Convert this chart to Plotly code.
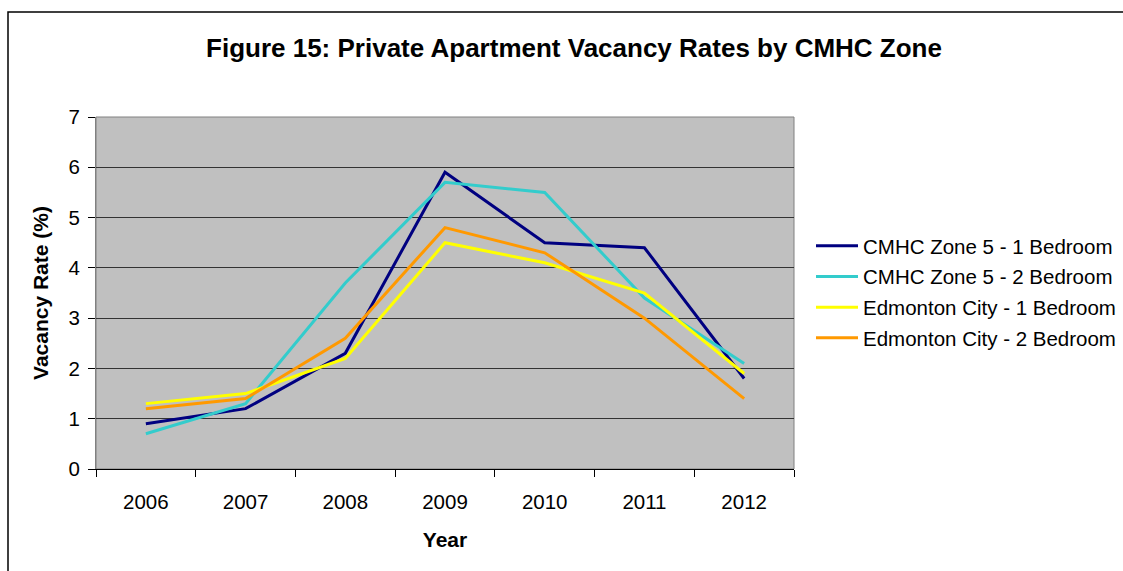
import plotly.graph_objects as go

# data
years = ["2006", "2007", "2008", "2009", "2010", "2011", "2012"]
zone5_1bed = [0.9, 1.2, 2.3, 5.9, 4.5, 4.4, 1.8]
zone5_2bed = [0.7, 1.3, 3.7, 5.7, 5.5, 3.4, 2.1]
edm_1bed = [1.3, 1.5, 2.2, 4.5, 4.1, 3.5, 1.9]
edm_2bed = [1.2, 1.4, 2.6, 4.8, 4.3, 3.0, 1.4]

series = [
    ("CMHC Zone 5 - 1 Bedroom", zone5_1bed, "#000080"),
    ("CMHC Zone 5 - 2 Bedroom", zone5_2bed, "#33CCCC"),
    ("Edmonton City - 1 Bedroom", edm_1bed, "#FFFF00"),
    ("Edmonton City - 2 Bedroom", edm_2bed, "#FF9900"),
]

W, H = 1123, 571
L, R, T, B = 96, 794, 117, 469  # plot area in pixels
FONT = "Liberation Sans, Arial, sans-serif"

fig = go.Figure()
for i, (name, vals, col) in enumerate(series):
    fig.add_trace(go.Scatter(x=years, y=vals, mode="lines", name=name,
                             legendgroup=f"g{i}",
                             line=dict(color=col, width=3)))


def px_x(p):
    return (p - L) / (R - L)


def px_y(p):
    return (B - p) / (B - T)


# outer chart frame (runs off the right/bottom edge like the reference)
fig.add_shape(type="rect", xref="paper", yref="paper",
              x0=px_x(8), x1=px_x(W + 20), y0=px_y(H + 20), y1=px_y(12),
              line=dict(color="#000000", width=1.5), layer="below")
# plot area border
fig.add_shape(type="rect", xref="paper", yref="paper", x0=0, x1=1, y0=0, y1=1,
              line=dict(color="#808080", width=1), layer="below")

fig.update_layout(
    width=W, height=H,
    margin=dict(l=L, r=W - R, t=T, b=H - B, autoexpand=False),
    paper_bgcolor="white", plot_bgcolor="#C0C0C0",
    font=dict(family=FONT, size=20.5, color="#000000"),
    title=dict(text="<b>Figure 15: Private Apartment Vacancy Rates by CMHC Zone</b>",
               font=dict(size=26, family=FONT),
               xref="container", x=574 / W, xanchor="center",
               yref="container", y=1 - 48 / H, yanchor="middle"),
    xaxis=dict(type="category", range=[-0.5, 6.5], tickson="boundaries",
               ticks="outside", ticklen=7, tickcolor="#000000",
               ticklabelstandoff=14,
               showline=True, linecolor="#000000", linewidth=1, showgrid=False,
               title=dict(text="<b>Year</b>", font=dict(size=21), standoff=20)),
    yaxis=dict(range=[0, 7], dtick=1, ticks="outside", ticklen=7, tickcolor="#000000",
               ticklabelstandoff=4,
               showline=True, linecolor="#808080", linewidth=1,
               showgrid=True, gridcolor="#333333", gridwidth=1, zeroline=False,
               title=dict(text="<b>Vacancy Rate (%)</b>", font=dict(size=21), standoff=14)),
    legend=dict(x=px_x(811), xanchor="left", y=px_y(226), yanchor="top",
                traceorder="grouped", tracegroupgap=1, itemwidth=42,
                bgcolor="rgba(0,0,0,0)", font=dict(size=20.5)),
    showlegend=True,
)

fig.write_html("out.html", config={"displayModeBar": False},
               post_script="document.body.style.margin='0';")
